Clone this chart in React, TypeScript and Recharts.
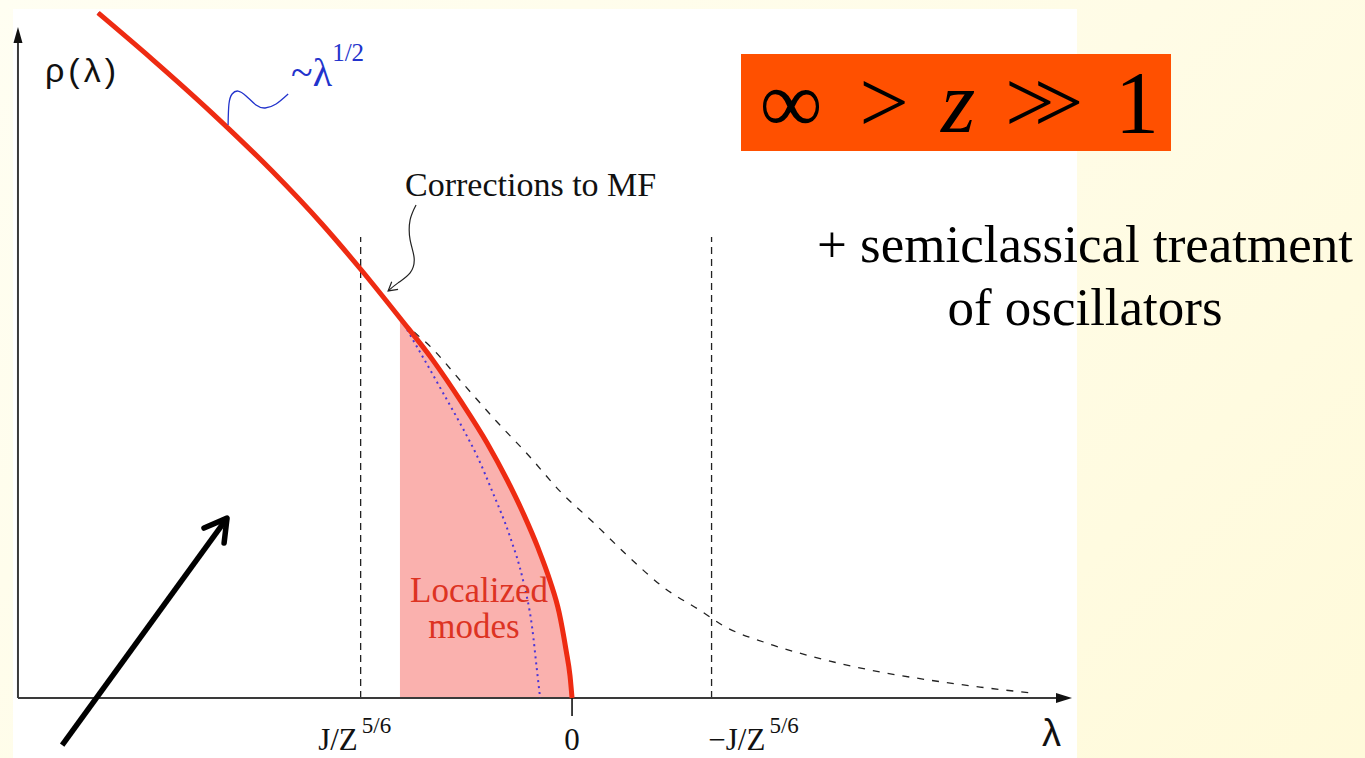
import React from 'react';
import { ComposedChart, Line, Area, XAxis, YAxis, ReferenceLine, ReferenceDot } from 'recharts';

type P = [number, number];

// λ measured in units of J/Z^{5/6} (0 = mean-field band edge), ρ in arbitrary units
const X_DOMAIN: [number, number] = [-2.706, 3.751];
const Y_DOMAIN: [number, number] = [-0.283, 3.297];

// Mean-field density of states (thick red curve)
const RED_CURVE: P[] = [
  [-2.242, 3.236], [-1.987, 3.018], [-1.703, 2.763], [-1.419, 2.489], [-1.183, 2.239],
  [-0.993, 2.017], [-0.814, 1.795], [-0.662, 1.601], [-0.520, 1.393], [-0.402, 1.205],
  [-0.307, 1.030], [-0.227, 0.864], [-0.161, 0.709], [-0.104, 0.553], [-0.0615, 0.406],
  [-0.0284, 0.227], [-0.0095, 0.104], [0, 0],
];
// ~λ^{1/2} asymptote (blue dotted), after it leaves the red curve
const SQRT_TAIL: P[] = [
  [-0.733, 1.658], [-0.610, 1.441], [-0.520, 1.280], [-0.449, 1.143], [-0.374, 0.968],
  [-0.293, 0.761], [-0.232, 0.557], [-0.189, 0.335], [-0.166, 0.132], [-0.151, 0],
];
// Corrected density of states (black dashed), after it leaves the red curve
const CORRECTED_TAIL: P[] = [
  [-0.77, 1.75], [-0.67, 1.66], [-0.52, 1.49], [-0.36, 1.31], [-0.20, 1.14], [-0.06, 0.98],
  [0.10, 0.83], [0.26, 0.675], [0.43, 0.525], [0.62, 0.405], [0.71, 0.345], [0.92, 0.26],
  [1.14, 0.195], [1.46, 0.123], [1.69, 0.085], [1.93, 0.052], [2.19, 0.022],
];
// Localized-modes shading starts here
const LOCALIZED_FROM = -0.814;
// Vertical markers ±J/Z^{5/6}
const MARKERS = [-1, 0.66];
const MARKER_TOP = 2.178;
// Axis extents
const AXIS_X0 = -2.621;
const AXIS_X_END = 2.30;
const AXIS_X_TIP = 2.365;
const AXIS_Y_END = 3.10;
const AXIS_Y_TIP = 3.17;

// Annotation strokes
const SQRT_SQUIGGLE: P[] = [
  [-1.627, 2.707], [-1.623, 2.806], [-1.608, 2.853], [-1.580, 2.867], [-1.542, 2.844],
  [-1.495, 2.801], [-1.452, 2.787], [-1.400, 2.806], [-1.343, 2.853],
];
const MF_POINTER: P[] = [
  [-0.738, 2.329], [-0.766, 2.258], [-0.766, 2.164], [-0.747, 2.079], [-0.766, 2.008],
  [-0.823, 1.961], [-0.870, 1.923],
];
const MF_POINTER_HEAD: P[] = [[-0.823, 1.930], [-0.870, 1.923], [-0.853, 1.966]];
const BIG_ARROW: P[] = [[-2.412, -0.222], [-1.632, 0.850]];
const BIG_ARROW_HEAD: P[] = [[-1.741, 0.803], [-1.632, 0.850], [-1.646, 0.732]];

const rows = (pts: P[]) => pts.map(([x, y]) => ({ x, y }));

const redRows = rows(RED_CURVE);
const sharedTop = RED_CURVE.filter(([x]) => x <= LOCALIZED_FROM);
const blueRows = rows([...sharedTop, ...SQRT_TAIL]);
const dashedRows = rows([...sharedTop, ...CORRECTED_TAIL]);
const fillRows = rows(RED_CURVE.filter(([x]) => x >= LOCALIZED_FROM));

const SERIF = '"Liberation Serif", "Times New Roman", serif';
const SANS = '"Liberation Sans", Arial, sans-serif';

const shape = (render: (cx: number, cy: number) => React.ReactNode) => (props: any) => (
  <g>{render(props.cx, props.cy)}</g>
);

const TICKS = [
  { v: -1, main: 'J/Z', sup: '5/6', dx: -6 },
  { v: 0, main: '0', sup: '', dx: 0 },
  { v: 0.66, main: '\u2212J/Z', sup: '5/6', dx: 42 },
];
const TICK_LABEL_Y = -0.243;

export default function App() {
  return (
    <div
      style={{
        position: 'absolute', left: 0, top: 0, width: 1365, height: 758, overflow: 'hidden',
        background: 'linear-gradient(135deg, #FFFEF2 0%, #FFFCE6 55%, #FFFADA 100%)',
      }}
    >
      <div style={{ position: 'absolute', left: 13, top: 9, width: 1064, height: 749, background: '#ffffff' }} />
      <div style={{ position: 'absolute', left: 0, top: 0 }}>
        <ComposedChart width={1365} height={758} margin={{ top: 0, right: 0, bottom: 0, left: 0 }}>
          <XAxis type="number" dataKey="x" domain={X_DOMAIN} allowDataOverflow hide />
          <YAxis type="number" dataKey="y" domain={Y_DOMAIN} allowDataOverflow hide />

          <Area data={fillRows} dataKey="y" type="monotone" fill="#FAB1AE" fillOpacity={1} stroke="none"
            baseValue={0} dot={false} activeDot={false} isAnimationActive={false} />

          {MARKERS.map((m) => (
            <ReferenceLine key={m} segment={[{ x: m, y: 0 }, { x: m, y: MARKER_TOP }]} stroke="#222"
              strokeWidth={1.3} strokeDasharray="7 5" ifOverflow="visible" />
          ))}

          <ReferenceLine segment={[{ x: AXIS_X0, y: 0 }, { x: AXIS_X_END, y: 0 }]} stroke="#3a3a3a" strokeWidth={2} ifOverflow="visible" />
          <ReferenceLine segment={[{ x: AXIS_X0, y: 0 }, { x: AXIS_X0, y: AXIS_Y_END }]} stroke="#3a3a3a" strokeWidth={2} ifOverflow="visible" />
          <ReferenceLine segment={[{ x: 0, y: 0 }, { x: 0, y: -0.085 }]} stroke="#111" strokeWidth={1.6} ifOverflow="visible" />
          <ReferenceDot x={AXIS_X_TIP} y={0} r={0} ifOverflow="visible"
            shape={shape((cx, cy) => <path d={`M${cx},${cy} L${cx - 16},${cy - 5} L${cx - 16},${cy + 5} Z`} fill="#111" />)} />
          <ReferenceDot x={AXIS_X0} y={AXIS_Y_TIP} r={0} ifOverflow="visible"
            shape={shape((cx, cy) => <path d={`M${cx},${cy} L${cx - 4.5},${cy + 16} L${cx + 4.5},${cy + 16} Z`} fill="#111" />)} />

          <Line data={blueRows} dataKey="y" type="monotone" stroke="#4A35D8" strokeWidth={2}
            strokeDasharray="2 4" dot={false} activeDot={false} isAnimationActive={false} />
          <Line data={dashedRows} dataKey="y" type="monotone" stroke="#222" strokeWidth={1.3}
            strokeDasharray="7 8" dot={false} activeDot={false} isAnimationActive={false} />
          <Line data={redRows} dataKey="y" type="monotone" stroke="#EE2B12" strokeWidth={5}
            dot={false} activeDot={false} isAnimationActive={false} />

          <Line data={rows(SQRT_SQUIGGLE)} dataKey="y" type="natural" stroke="#2233CC" strokeWidth={1.3}
            dot={false} activeDot={false} isAnimationActive={false} />
          <Line data={rows(MF_POINTER)} dataKey="y" type="natural" stroke="#222" strokeWidth={1.2}
            dot={false} activeDot={false} isAnimationActive={false} />
          <Line data={rows(MF_POINTER_HEAD)} dataKey="y" type="linear" stroke="#222" strokeWidth={1.2}
            dot={false} activeDot={false} isAnimationActive={false} />
          <Line data={rows(BIG_ARROW)} dataKey="y" type="linear" stroke="#000" strokeWidth={5.5}
            dot={false} activeDot={false} isAnimationActive={false} />
          <Line data={rows(BIG_ARROW_HEAD)} dataKey="y" type="linear" stroke="#000" strokeWidth={5.5}
            strokeLinejoin="round" strokeLinecap="round" dot={false} activeDot={false} isAnimationActive={false} />

          {TICKS.map((t) => (
            <ReferenceDot key={t.v} x={t.v} y={TICK_LABEL_Y} r={0} ifOverflow="visible"
              shape={shape((cx, cy) => (
                <text x={cx + t.dx} y={cy} textAnchor="middle" fontFamily={SERIF} fontSize={31} fill="#111">
                  {t.main}
                  {t.sup ? <tspan dx={4} dy={-17} fontSize={23}>{t.sup}</tspan> : null}
                </text>
              ))} />
          ))}

          <ReferenceDot x={2.223} y={-0.227} r={0} ifOverflow="visible"
            shape={shape((cx, cy) => <text x={cx} y={cy} fontFamily={SANS} fontSize={38} fill="#111">λ</text>)} />
          <ReferenceDot x={-2.493} y={2.91} r={0} ifOverflow="visible"
            shape={shape((cx, cy) => (
              <text x={cx} y={cy} fontFamily={SANS} fontSize={34} letterSpacing={4} fill="#111">ρ(λ)</text>
            ))} />
          <ReferenceDot x={-1.329} y={2.891} r={0} ifOverflow="visible"
            shape={shape((cx, cy) => (
              <text x={cx} y={cy} fontFamily={SERIF} fontSize={40} fill="#2233CC">
                ~λ<tspan dy={-25} fontSize={25}>1/2</tspan>
              </text>
            ))} />
          <ReferenceDot x={-0.79} y={2.371} r={0} ifOverflow="visible"
            shape={shape((cx, cy) => (
              <text x={cx} y={cy} fontFamily={SERIF} fontSize={34} fill="#111">Corrections to MF</text>
            ))} />
          <ReferenceDot x={-0.44} y={0.453} r={0} ifOverflow="visible"
            shape={shape((cx, cy) => (
              <text x={cx} y={cy} textAnchor="middle" fontFamily={SERIF} fontSize={35} fill="#DD3322">Localized</text>
            ))} />
          <ReferenceDot x={-0.464} y={0.283} r={0} ifOverflow="visible"
            shape={shape((cx, cy) => (
              <text x={cx} y={cy} textAnchor="middle" fontFamily={SERIF} fontSize={35} fill="#DD3322">modes</text>
            ))} />
        </ComposedChart>
      </div>

      <svg style={{ position: 'absolute', left: 0, top: 0 }} width={1365} height={758}>
        <rect x={741} y={54} width={430} height={97} fill="#FF5000" />
        <g fontFamily={SERIF} fontSize={88} fill="#000" textAnchor="middle">
          <text x={791} y={132}>∞</text>
          <text x={884} y={132}>&gt;</text>
          <text x={958} y={132} fontStyle="italic">z</text>
          <text x={1005} y={132} textAnchor="start" letterSpacing={-21}>&gt;&gt;</text>
          <text x={1137} y={132}>1</text>
        </g>
        <g fontFamily={SERIF} fontSize={53} fill="#000" textAnchor="middle">
          <text x={1085} y={262}>+ semiclassical treatment</text>
          <text x={1085} y={325}>of oscillators</text>
        </g>
      </svg>
    </div>
  );
}
